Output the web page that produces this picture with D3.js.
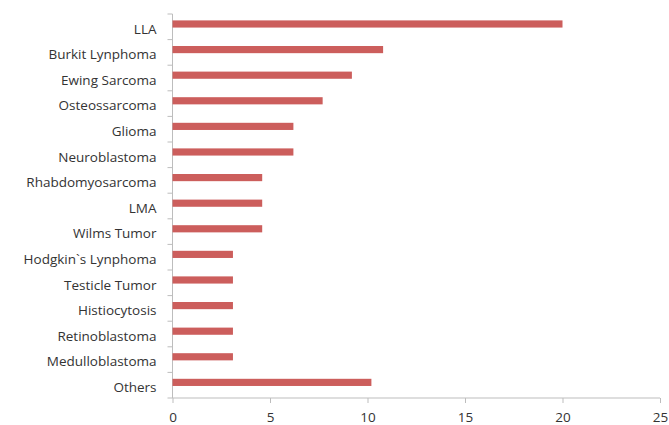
<!DOCTYPE html>
<meta charset="utf-8">
<html>
  <head>
    <style>
      body { margin: 0; background: #fff; }
      .axis text {
        font-family: "Open Sans", Lato, sans-serif;
        font-size: 13.5px;
        fill: #333;
      }
      .axis path, .axis line {
        stroke: #bdbdbd;
        stroke-width: 1px;
      }
      rect.bar {
        fill: #cc5e5c;
      }
    </style>
    <script src="https://d3js.org/d3.v7.min.js"></script>
  </head>
  <body>
    <div id="chart"></div>
    <script type="text/javascript">
      var categories = ["LLA", "Burkit Lynphoma", "Ewing Sarcoma", "Osteossarcoma", "Glioma",
                        "Neuroblastoma", "Rhabdomyosarcoma", "LMA", "Wilms Tumor",
                        "Hodgkin`s Lynphoma", "Testicle Tumor", "Histiocytosis",
                        "Retinoblastoma", "Medulloblastoma", "Others"],
          values = [20, 10.8, 9.2, 7.7, 6.2, 6.2, 4.6, 4.6, 4.6, 3.1, 3.1, 3.1, 3.1, 3.1, 10.2],
          xTicks = [0, 5, 10, 15, 20, 25];

      var margin = { top: 14, right: 9, bottom: 27, left: 172.5 },
          width = 669 - margin.left - margin.right,
          height = 425 - margin.top - margin.bottom;

      var svg = d3.select("#chart").append("svg")
          .attr("width", 669)
          .attr("height", 425)
          .append("g")
          .attr("transform", "translate(" + margin.left + "," + margin.top + ")");

      var x = d3.scaleLinear().domain([0, 25]).range([0, width]);
      var y = d3.scaleBand().domain(categories).range([0, height]);

      // category boundary ticks on the left axis
      var yTicks = d3.range(categories.length + 1).map(function(i) { return i * y.step(); });
      svg.append("g")
          .attr("class", "axis")
          .selectAll("line")
          .data(yTicks)
          .enter().append("line")
            .attr("x1", -5).attr("x2", 0)
            .attr("y1", function(d) { return d; })
            .attr("y2", function(d) { return d; });

      svg.append("g")
          .attr("class", "axis")
          .append("line")
            .attr("x1", 0).attr("x2", 0)
            .attr("y1", 0).attr("y2", height);

      svg.append("g")
          .attr("class", "axis")
          .selectAll("text")
          .data(categories)
          .enter().append("text")
            .attr("x", -16)
            .attr("y", function(d) { return y(d) + y.bandwidth() / 2 + 2; })
            .attr("dy", "0.35em")
            .style("text-anchor", "end")
            .text(function(d) { return d; });

      var xAxis = svg.append("g")
          .attr("class", "axis")
          .attr("transform", "translate(0," + height + ")")
          .call(d3.axisBottom(x).tickValues(xTicks).tickSize(5).tickSizeOuter(0).tickPadding(9));
      xAxis.select(".domain").attr("d", "M0,0H" + width);

      svg.selectAll(".bar")
          .data(values)
          .enter().append("rect")
            .attr("class", "bar")
            .attr("x", 0)
            .attr("y", function(d, i) { return y(categories[i]) + y.bandwidth() * 0.25; })
            .attr("width", function(d) { return x(d); })
            .attr("height", y.bandwidth() * 0.28);
    </script>
  </body>
</html>
